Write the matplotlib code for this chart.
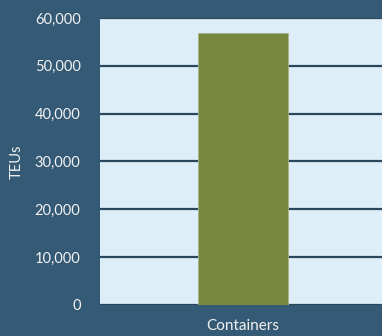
import matplotlib.pyplot as plt
from matplotlib.ticker import FuncFormatter

# data
categories = ["Containers"]
teus = [56900]
y_ticks = [0, 10000, 20000, 30000, 40000, 50000, 60000]

bg = "#355A75"
plot_bg = "#DDEEF8"
bar_color = "#77873F"
grid_color = "#2A475E"

plt.rcParams['font.family'] = ['Lato', 'DejaVu Sans']

fig = plt.figure(figsize=(3.82, 3.36), dpi=100, facecolor=bg)
ax = fig.add_axes([100 / 382, 31 / 336, 286 / 382, 287 / 336])
ax.set_facecolor(plot_bg)

ax.bar(range(len(categories)), teus, width=0.315, color=bar_color,
       edgecolor="#A9B486", linewidth=0.6, zorder=3)

ax.set_xlim(-0.5, 0.5)
ax.set_ylim(0, 60000)
ax.set_yticks(y_ticks)
ax.yaxis.set_major_formatter(FuncFormatter(lambda v, p: f"{int(v):,}"))
ax.set_xticks(range(len(categories)))
ax.set_xticklabels(categories)

ax.grid(axis="y", color=grid_color, linewidth=1.6, zorder=1)
ax.tick_params(length=0, colors="#F2F2F2", labelsize=10.5)
ax.tick_params(axis="y", pad=14)
ax.tick_params(axis="x", labelsize=11, pad=10)
for s in ax.spines.values():
    s.set_visible(False)

ax.set_ylabel("TEUs", color="#F2F2F2", fontsize=10.5)
ax.yaxis.set_label_coords(-76 / 286, 0.5)

fig.savefig("out.png", dpi=100, facecolor=bg)
